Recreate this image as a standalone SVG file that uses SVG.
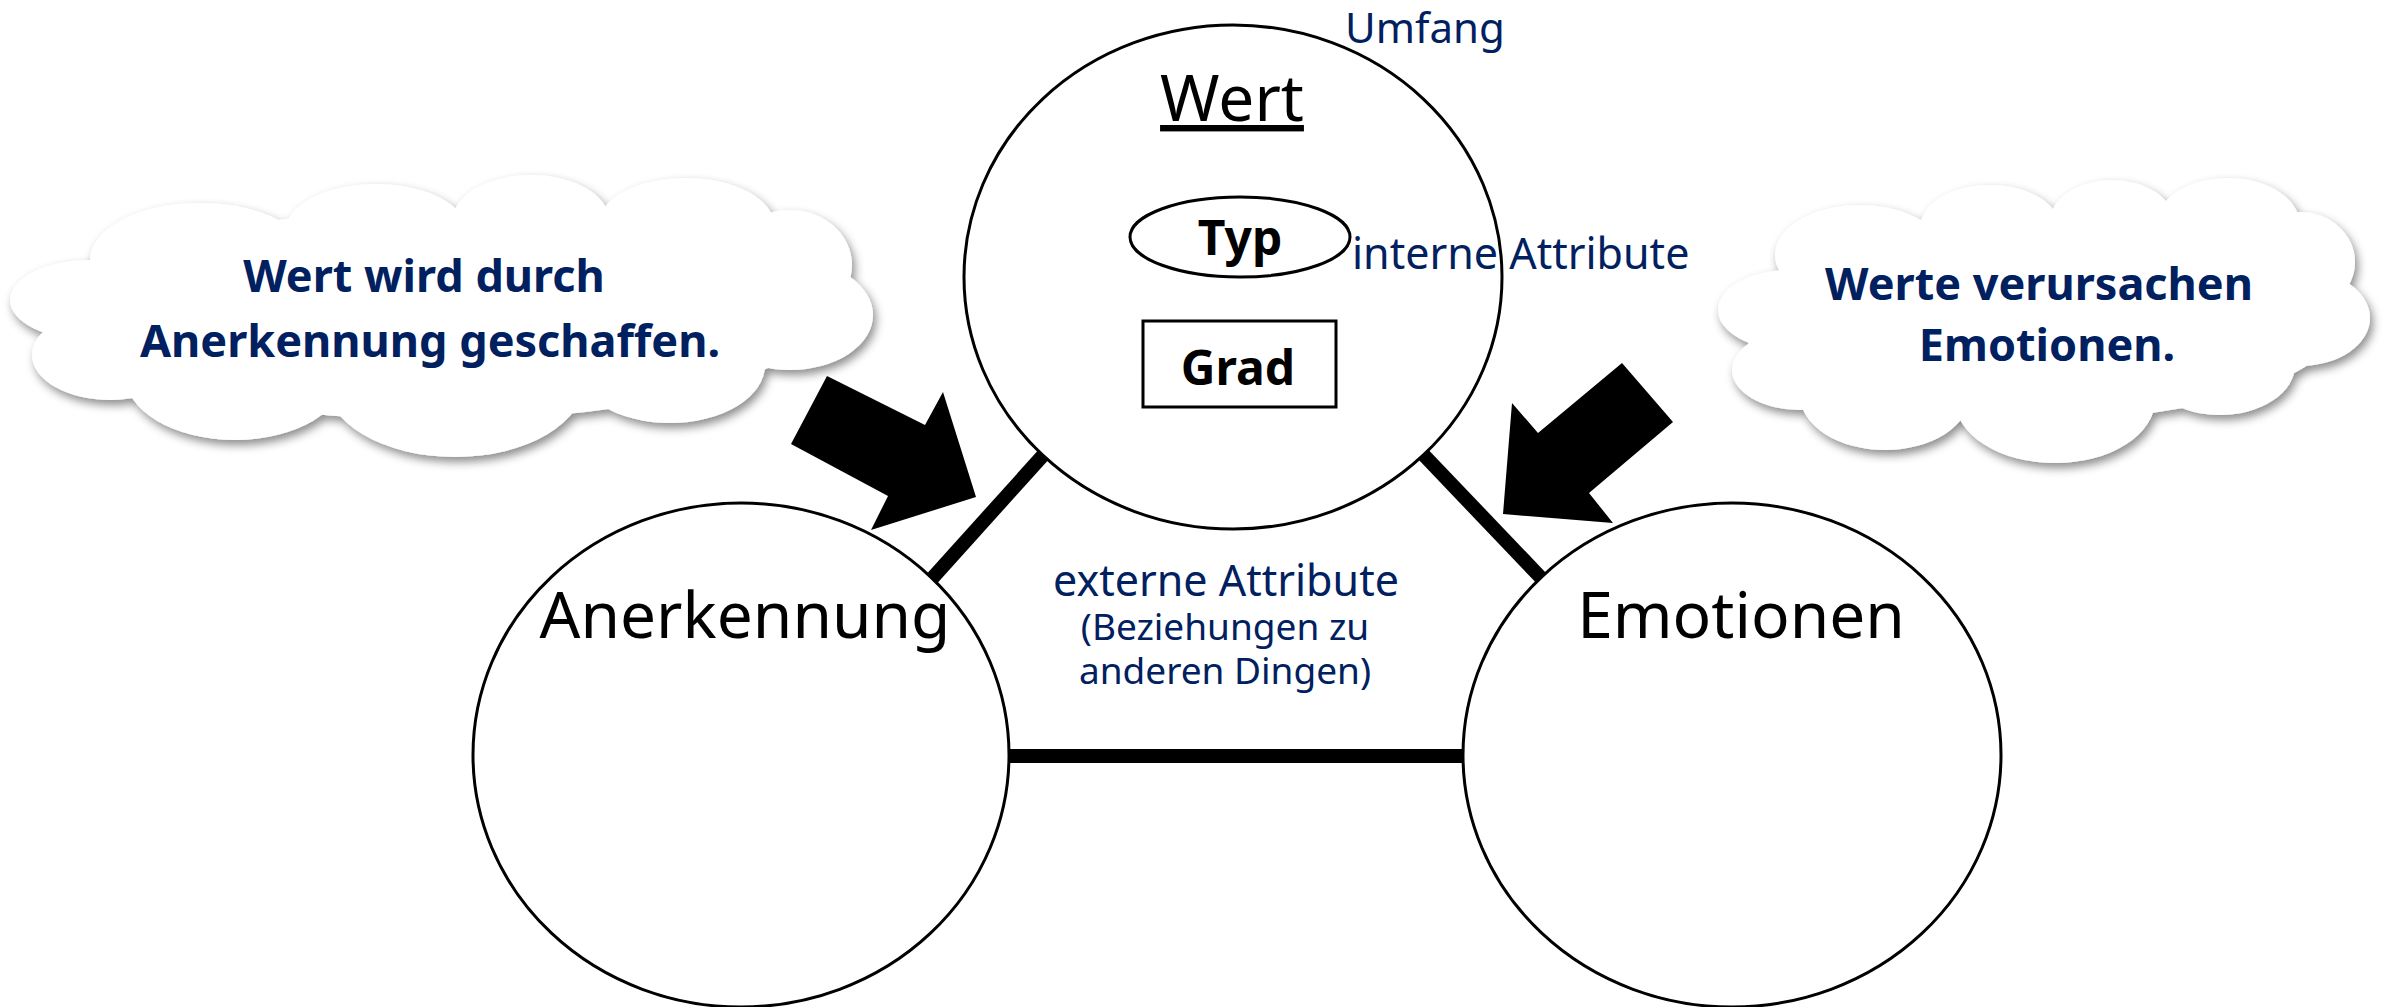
<svg xmlns="http://www.w3.org/2000/svg" width="2387" height="1007" viewBox="0 0 2387 1007">
<style>
.node{fill:#fff;stroke:#000;stroke-width:3}
.conn{stroke:#000;stroke-width:14;fill:none}
.big{font-family:"Noto Sans","DejaVu Sans",sans-serif;font-size:64px;fill:#000}
.lbl{font-family:"Noto Sans","DejaVu Sans",sans-serif;fill:#002060}
.bold{font-family:"Noto Sans","DejaVu Sans",sans-serif;font-weight:bold;font-size:48px;fill:#000}
.cloudtxt{font-family:"Noto Sans","DejaVu Sans",sans-serif;font-weight:bold;font-size:45px;fill:#002060;text-anchor:middle}
.cloud ellipse{fill:#fff}
.arrow{fill:#000}
</style>
<defs>
<filter id="sh" x="-10%" y="-10%" width="120%" height="130%">
<feDropShadow dx="3" dy="5" stdDeviation="5" flood-color="#000" flood-opacity="0.45"/>
</filter>
</defs>
<rect width="2387" height="1007" fill="#fff"/>

<g id="cloud-left" class="cloud" filter="url(#sh)">
<ellipse cx="200" cy="260" rx="110" ry="57"/>
<ellipse cx="376" cy="230" rx="90" ry="46"/>
<ellipse cx="531" cy="220" rx="78" ry="45"/>
<ellipse cx="686" cy="225" rx="88" ry="47"/>
<ellipse cx="790" cy="265" rx="62" ry="55"/>
<ellipse cx="790" cy="315" rx="83" ry="55"/>
<ellipse cx="670" cy="365" rx="95" ry="58"/>
<ellipse cx="455" cy="380" rx="130" ry="77"/>
<ellipse cx="235" cy="375" rx="110" ry="65"/>
<ellipse cx="110" cy="355" rx="78" ry="45"/>
<ellipse cx="90" cy="300" rx="80" ry="40"/>
<ellipse cx="440" cy="315" rx="380" ry="105"/>
</g>
<g id="cloud-left-text">
<text class="cloudtxt" x="424" y="292">Wert wird durch</text>
<text class="cloudtxt" x="430" y="357">Anerkennung geschaffen.</text>
</g>

<g id="cloud-right" class="cloud" filter="url(#sh)">
<ellipse cx="1790" cy="310" rx="72" ry="40"/>
<ellipse cx="1860" cy="255" rx="85" ry="50"/>
<ellipse cx="1990" cy="228" rx="70" ry="43"/>
<ellipse cx="2112" cy="222" rx="62" ry="42"/>
<ellipse cx="2228" cy="225" rx="72" ry="47"/>
<ellipse cx="2300" cy="262" rx="55" ry="50"/>
<ellipse cx="2300" cy="318" rx="70" ry="48"/>
<ellipse cx="2220" cy="365" rx="75" ry="50"/>
<ellipse cx="2055" cy="400" rx="100" ry="63"/>
<ellipse cx="1885" cy="395" rx="85" ry="55"/>
<ellipse cx="1800" cy="370" rx="68" ry="40"/>
<ellipse cx="2040" cy="320" rx="300" ry="100"/>
</g>
<g id="cloud-right-text">
<text class="cloudtxt" x="2039" y="300">Werte verursachen</text>
<text class="cloudtxt" x="2047" y="361">Emotionen.</text>
</g>

<g id="connectors">
<line class="conn" x1="1046" y1="452" x2="928" y2="583"/>
<line class="conn" x1="1419" y1="450" x2="1545" y2="582"/>
<line class="conn" x1="1005" y1="756" x2="1467" y2="756"/>
</g>

<g id="node-wert">
<ellipse class="node" cx="1233" cy="277" rx="269" ry="252"/>
<text class="big" x="1232" y="121" text-anchor="middle" text-decoration="underline">Wert</text>
</g>
<g id="node-typ">
<ellipse class="node" cx="1240" cy="237" rx="110" ry="40"/>
<text class="bold" x="1240" y="255" text-anchor="middle">Typ</text>
</g>
<g id="node-grad">
<rect class="node" x="1143" y="321" width="193" height="86"/>
<text class="bold" x="1238" y="385" text-anchor="middle">Grad</text>
</g>
<g id="node-anerkennung">
<ellipse class="node" cx="741" cy="755" rx="268" ry="252"/>
<text class="big" x="745" y="638" text-anchor="middle">Anerkennung</text>
</g>
<g id="node-emotionen">
<ellipse class="node" cx="1732" cy="755" rx="269" ry="252"/>
<text class="big" x="1741" y="638" text-anchor="middle">Emotionen</text>
</g>

<g id="labels">
<text class="lbl" x="1345" y="43" font-size="42">Umfang</text>
<text class="lbl" x="1352" y="269" font-size="43">interne Attribute</text>
<text class="lbl" x="1226" y="596" font-size="43" text-anchor="middle">externe Attribute</text>
<text class="lbl" x="1225" y="640" font-size="37" text-anchor="middle">(Beziehungen zu</text>
<text class="lbl" x="1225" y="684" font-size="37" text-anchor="middle">anderen Dingen)</text>
</g>

<g id="arrows">
<polygon class="arrow" points="827,376 925,425 943,392 976,497 871,530 888,496 791,444"/>
<polygon class="arrow" points="1622,363 1673,422 1589,493 1613,523 1503,514 1512,403 1538,433"/>
</g>
</svg>
